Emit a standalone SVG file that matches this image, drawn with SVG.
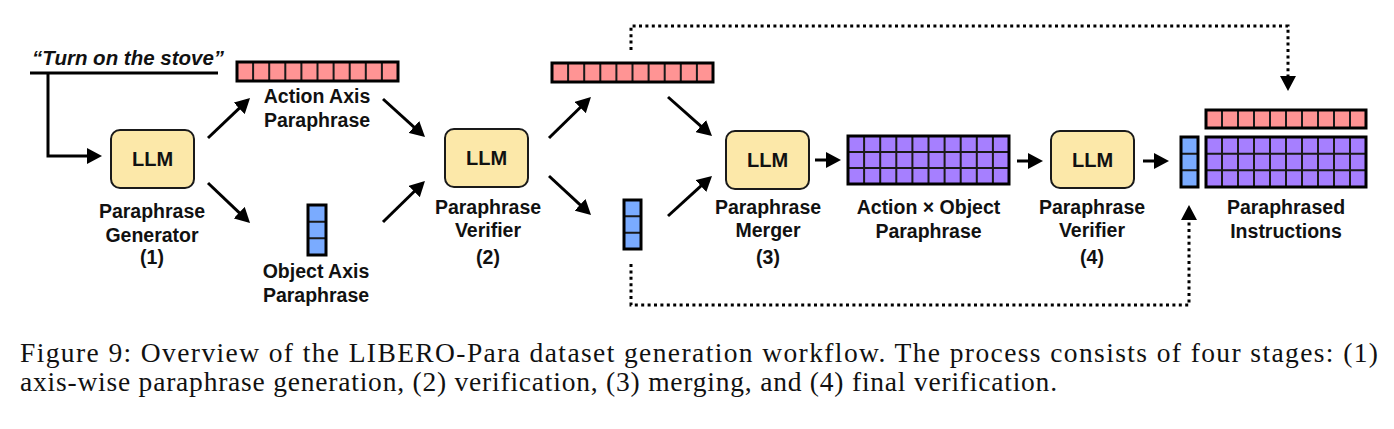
<svg xmlns="http://www.w3.org/2000/svg" width="1394" height="429" viewBox="0 0 1394 429">
<style>
.bg{fill:#fff}
.llm{fill:#FCE8A9;stroke:#1a1a1a;stroke-width:2}
.lt{font-family:"Liberation Sans",Arial,sans-serif;font-weight:700;font-size:20px;fill:#111;text-anchor:middle}
.lab{font-family:"Liberation Sans",Arial,sans-serif;font-weight:700;font-size:19.5px;fill:#111;text-anchor:middle}
.red{fill:#FF9494}
.pur{fill:#A67FFF}
.blu{fill:#7AABFF}
.sep{stroke:#1a1a1a;stroke-width:2;fill:none}
.frame{fill:none;stroke:#000;stroke-width:3}
.arr{fill:none;stroke:#000;stroke-width:3;marker-end:url(#ah)}
.dot{fill:none;stroke:#000;stroke-width:3;stroke-dasharray:3 3.4;marker-end:url(#ah)}
.cap{font-family:"Liberation Serif","Times New Roman",serif;font-size:27.5px;fill:#111}
</style>
<defs>
<marker id="ah" markerUnits="userSpaceOnUse" markerWidth="16" markerHeight="16" refX="5" refY="8" orient="auto">
<path d="M0,0 L15,8 L0,16 z" fill="#000"/>
</marker>
</defs>
<rect class="bg" x="0" y="0" width="1394" height="429"/>

<g id="input">
<text x="32" y="65" style="font-family:'Liberation Sans',Arial,sans-serif;font-weight:700;font-style:italic;font-size:20.5px;fill:#111">“Turn on the stove”</text>
<line x1="30" y1="73" x2="218" y2="73" stroke="#000" stroke-width="3"/>
</g>

<g id="connectors">
<path class="arr" d="M48,73 V156 H92"/>
<path class="arr" d="M208,138 L242.8,104.9"/>
<path class="arr" d="M208,183 L242.8,216.1"/>
<path class="arr" d="M383,99 L417.6,130.3"/>
<path class="arr" d="M383,222 L417.8,188"/>
<path class="arr" d="M549,138 L583.8,104"/>
<path class="arr" d="M549,176 L583.7,208.2"/>
<path class="arr" d="M668,97 L704.5,129.4"/>
<path class="arr" d="M668,216 L704.6,182.7"/>
<path class="arr" d="M815,160 H831"/>
<path class="arr" d="M1017,161 H1033"/>
<path class="arr" d="M1143,161 H1159"/>
<path class="dot" d="M631,50 V26 H1288 V81"/>
<path class="dot" d="M631,264 V305 H1189 V215"/>
</g>

<g id="llm1">
<rect class="llm" x="111" y="130" width="83" height="58" rx="9"/>
<text class="lt" x="152.5" y="166">LLM</text>
<text class="lab" x="152" y="218">Paraphrase</text>
<text class="lab" x="152" y="242">Generator</text>
<text class="lab" x="152" y="264">(1)</text>
</g>

<g id="action-axis">
<rect class="red" x="237" y="62" width="161" height="19"/>
<path class="sep" d="M253.1,62v19M269.2,62v19M285.3,62v19M301.4,62v19M317.5,62v19M333.6,62v19M349.7,62v19M365.8,62v19M381.9,62v19"/>
<rect class="frame" x="237" y="62" width="161" height="19"/>
<text class="lab" x="317" y="103">Action Axis</text>
<text class="lab" x="317" y="127">Paraphrase</text>
</g>

<g id="object-axis">
<rect class="blu" x="308" y="205" width="18" height="50"/>
<path class="sep" d="M308,221.7h18M308,238.3h18"/>
<rect class="frame" x="308" y="205" width="18" height="50"/>
<text class="lab" x="316" y="278">Object Axis</text>
<text class="lab" x="316" y="302">Paraphrase</text>
</g>

<g id="llm2">
<rect class="llm" x="445" y="129" width="83" height="58" rx="9"/>
<text class="lt" x="486.5" y="165">LLM</text>
<text class="lab" x="488" y="214">Paraphrase</text>
<text class="lab" x="488" y="237">Verifier</text>
<text class="lab" x="488" y="264">(2)</text>
</g>

<g id="verified-action">
<rect class="red" x="552" y="63" width="161" height="19"/>
<path class="sep" d="M568.1,63v19M584.2,63v19M600.3,63v19M616.4,63v19M632.5,63v19M648.6,63v19M664.7,63v19M680.8,63v19M696.9,63v19"/>
<rect class="frame" x="552" y="63" width="161" height="19"/>
</g>

<g id="verified-object">
<rect class="blu" x="624" y="200" width="17" height="49"/>
<path class="sep" d="M624,216.3h17M624,232.7h17"/>
<rect class="frame" x="624" y="200" width="17" height="49"/>
</g>

<g id="llm3">
<rect class="llm" x="726" y="131" width="83" height="58" rx="9"/>
<text class="lt" x="767.5" y="167">LLM</text>
<text class="lab" x="768" y="214">Paraphrase</text>
<text class="lab" x="768" y="237">Merger</text>
<text class="lab" x="768" y="264">(3)</text>
</g>

<g id="action-x-object">
<rect class="pur" x="848" y="136" width="161" height="48"/>
<path class="sep" d="M864.1,136v48M880.2,136v48M896.3,136v48M912.4,136v48M928.5,136v48M944.6,136v48M960.7,136v48M976.8,136v48M992.9,136v48M848,152h161M848,168h161"/>
<rect class="frame" x="848" y="136" width="161" height="48"/>
<text class="lab" x="928.5" y="214">Action × Object</text>
<text class="lab" x="928.5" y="238">Paraphrase</text>
</g>

<g id="llm4">
<rect class="llm" x="1051" y="131" width="83" height="57" rx="9"/>
<text class="lt" x="1092.5" y="167">LLM</text>
<text class="lab" x="1092" y="214">Paraphrase</text>
<text class="lab" x="1092" y="237">Verifier</text>
<text class="lab" x="1092" y="264">(4)</text>
</g>

<g id="paraphrased-instructions">
<rect class="red" x="1206" y="110" width="160" height="18"/>
<path class="sep" d="M1222,110v18M1238,110v18M1254,110v18M1270,110v18M1286,110v18M1302,110v18M1318,110v18M1334,110v18M1350,110v18"/>
<rect class="frame" x="1206" y="110" width="160" height="18"/>
<rect class="blu" x="1181" y="137" width="17" height="50"/>
<path class="sep" d="M1181,153.7h17M1181,170.3h17"/>
<rect class="frame" x="1181" y="137" width="17" height="50"/>
<rect class="pur" x="1206" y="137" width="160" height="50"/>
<path class="sep" d="M1222,137v50M1238,137v50M1254,137v50M1270,137v50M1286,137v50M1302,137v50M1318,137v50M1334,137v50M1350,137v50M1206,153.7h160M1206,170.3h160"/>
<rect class="frame" x="1206" y="137" width="160" height="50"/>
<text class="lab" x="1286" y="214">Paraphrased</text>
<text class="lab" x="1286" y="238">Instructions</text>
</g>

<g id="caption">
<text class="cap" x="20" y="362" textLength="1358" lengthAdjust="spacing">Figure 9: Overview of the LIBERO-Para dataset generation workflow. The process consists of four stages: (1)</text>
<text class="cap" x="20" y="391" textLength="1037" lengthAdjust="spacing">axis-wise paraphrase generation, (2) verification, (3) merging, and (4) final verification.</text>
</g>
</svg>
